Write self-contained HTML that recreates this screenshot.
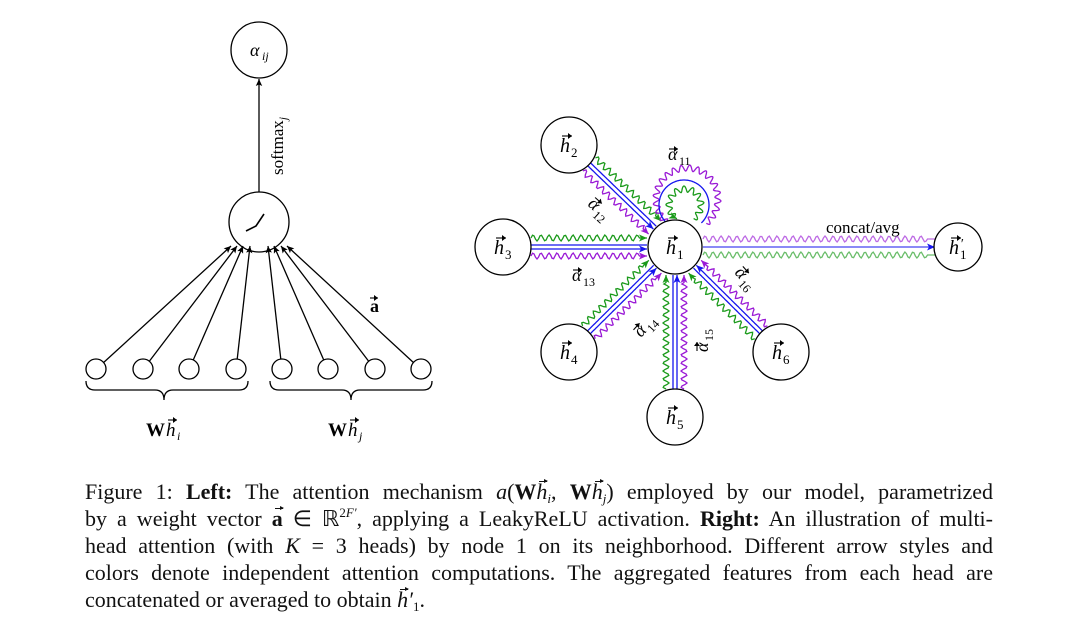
<!DOCTYPE html>
<html><head><meta charset="utf-8"><style>
html,body{margin:0;padding:0;background:#fff;width:1080px;height:634px;overflow:hidden}
svg{position:absolute;left:0;top:0}
.cap{position:absolute;left:85px;width:908px;font-family:"Liberation Serif",serif;font-size:22px;color:#111;text-align:justify;text-align-last:justify;white-space:nowrap;line-height:27px;height:27px}
.cap sub,.cap sup{font-size:13px;line-height:0;position:relative;vertical-align:baseline}
.cap sub{top:4px}.cap sup{top:-9px}
.v{position:relative;display:inline-block;font-style:italic}
.v::before{content:"";position:absolute;left:3px;top:3px;width:8px;border-top:1.1px solid #111}
.v::after{content:"";position:absolute;left:8px;top:1px;border-left:4px solid #111;border-top:2.5px solid transparent;border-bottom:2.5px solid transparent}
</style></head><body>
<svg id="s" width="1080" height="634" viewBox="0 0 1080 634" font-family="Liberation Serif, serif">
<defs>
<marker id="ak" markerWidth="8" markerHeight="8" refX="7" refY="4" orient="auto" markerUnits="userSpaceOnUse"><path d="M0,0.8 L7,4 L0,7.2 L1.5,4 Z" fill="#000"/></marker>
<marker id="ab" markerWidth="9" markerHeight="9" refX="8" refY="4.5" orient="auto" markerUnits="userSpaceOnUse"><path d="M0,1 L8,4.5 L0,8 L2,4.5 Z" fill="#1515ee"/></marker>
<marker id="ag" markerWidth="9" markerHeight="9" refX="8" refY="4.5" orient="auto" markerUnits="userSpaceOnUse"><path d="M0,1 L8,4.5 L0,8 L2,4.5 Z" fill="#1a9a1a"/></marker>
<marker id="ap" markerWidth="9" markerHeight="9" refX="8" refY="4.5" orient="auto" markerUnits="userSpaceOnUse"><path d="M0,1 L8,4.5 L0,8 L2,4.5 Z" fill="#9a1ad6"/></marker>
</defs>
<g stroke="#000" stroke-width="1.3" fill="none">
<circle cx="259" cy="50" r="28"/>
<circle cx="259" cy="222" r="30"/>
<path d="M246,231 L256,226 L264,214" stroke-width="1.6"/>
<line x1="259" y1="192" x2="259" y2="79" marker-end="url(#ak)"/>
<g id="bots"></g>
<path d="M86,381 q0,9 9,9 h60 q9,0 9,10 q0,-10 9,-10 h66 q9,0 9,-9"/>
<path d="M270,381 q0,9 9,9 h63 q9,0 9,10 q0,-10 9,-10 h63 q9,0 9,-9"/>
</g>
<text x="250" y="56" font-size="18" font-style="italic">α</text><text x="262" y="60" font-size="12" font-style="italic">ij</text>
<text transform="translate(283,175) rotate(-90)" font-size="17">softmax<tspan font-style="italic" font-size="12" dy="4">j</tspan></text>
<text x="370" y="312" font-size="18" font-weight="bold">a</text>
<text x="146" y="436" font-size="19" font-weight="bold">W</text><text x="166" y="436" font-size="19" font-style="italic">h</text><text x="177" y="440" font-size="12" font-style="italic">i</text>
<text x="328" y="436" font-size="19" font-weight="bold">W</text><text x="348" y="436" font-size="19" font-style="italic">h</text><text x="359" y="440" font-size="12" font-style="italic">j</text>
<g id="edges" fill="none"></g>
<g stroke="#000" stroke-width="1.3" fill="#fff">
<circle cx="675" cy="247" r="27"/>
<circle cx="569" cy="145" r="28"/>
<circle cx="503" cy="247" r="28"/>
<circle cx="569" cy="352" r="28"/>
<circle cx="675" cy="417" r="28"/>
<circle cx="781" cy="352" r="28"/>
<circle cx="958" cy="247" r="24"/>
</g>
<g id="labs"></g>
<text x="826" y="233" font-size="17">concat/avg</text>
</svg>
<div class="cap" style="top:478px">Figure 1: <b>Left:</b> The attention mechanism <i>a</i>(<b>W</b><span class="v">h</span><sub><i>i</i></sub>, <b>W</b><span class="v">h</span><sub><i>j</i></sub>) employed by our model, parametrized</div>
<div class="cap" style="top:505px">by a weight vector <b class="v" style="font-style:normal">a</b> ∈ ℝ<sup>2<i>F′</i></sup>, applying a LeakyReLU activation. <b>Right:</b> An illustration of multi-</div>
<div class="cap" style="top:532px">head attention (with <i>K</i> = 3 heads) by node 1 on its neighborhood. Different arrow styles and</div>
<div class="cap" style="top:559px">colors denote independent attention computations. The aggregated features from each head are</div>
<div class="cap" style="top:586px;text-align-last:left">concatenated or averaged to obtain <span class="v">h</span><i>′</i><sub>1</sub>.</div>
<script>
var NS="http://www.w3.org/2000/svg";
function el(tag,attrs,parent,txt){var e=document.createElementNS(NS,tag);for(var k in attrs)e.setAttribute(k,attrs[k]);if(txt!=null)e.textContent=txt;parent.appendChild(e);return e;}
var bots=document.getElementById("bots");
var xs=[96,143,189,236,282,328,375,421];
var tx=[231,237,243,250,268,274,281,287];
xs.forEach(function(x,i){
 el("circle",{cx:x,cy:369,r:10},bots);
 var dx=tx[i]-x,dy=244-359,L=Math.hypot(dx,dy);
 el("line",{x1:x+dx/L*10,y1:369+dy/L*10,x2:tx[i],y2:246,"marker-end":"url(#ak)"},bots);
});
var S=document.getElementById("s");
function vecArrow(g,x,y,w){el("path",{d:"M"+x+","+y+" h"+w,stroke:"#000","stroke-width":1.1,fill:"none"},g);el("path",{d:"M"+(x+w-4)+","+(y-3)+" L"+(x+w)+","+y+" L"+(x+w-4)+","+(y+3)+" Z",fill:"#000"},g);}
vecArrow(S,168,420,9);vecArrow(S,350,420,9);vecArrow(S,370,298,8);
var labs=document.getElementById("labs");
function hl(x,y,sub,prime){var g=el("g",{},labs);
 el("text",{x:x-6,y:y+7,"font-size":20,"font-style":"italic"},g,"h");
 vecArrow(g,x-4,y-9,10);
 if(prime)el("text",{x:x+5,y:y+1,"font-size":14,"font-style":"italic"},g,"′");
 el("text",{x:x+5,y:y+12,"font-size":13},g,sub);}
hl(672,247,"1");hl(566,145,"2");hl(500,247,"3");hl(566,352,"4");hl(672,417,"5");hl(778,352,"6");hl(955,247,"1",true);
function al(x,y,rot,sub){var g=el("g",{transform:"translate("+x+","+y+") rotate("+rot+")"},labs);
 el("text",{x:0,y:0,"font-size":18,"font-style":"italic"},g,"α");
 vecArrow(g,1,-11,9);
 el("text",{x:11,y:5,"font-size":12},g,sub);}
al(668,160,0,"11");al(587,205,42,"12");al(572,281,0,"13");al(641,338,-48,"14");al(708,352,-90,"15");al(734,273,48,"16");
var E=document.getElementById("edges");
var C={b:"#1515ee",g:"#1a9a1a",p:"#9a1ad6"};
function seg(p,q,off,wavy,col,mk,op){
 var dx=q[0]-p[0],dy=q[1]-p[1],L=Math.hypot(dx,dy),ux=dx/L,uy=dy/L,nx=uy,ny=-ux;
 var d="";var n=Math.floor(L/1.5);
 for(var k=0;k<=n;k++){var t=k/n*L;var a=wavy&&t<L-8?3*Math.sin(t/8*2*Math.PI):0;
  var x=p[0]+ux*t+nx*(off+a),y=p[1]+uy*t+ny*(off+a);d+=(k?"L":"M")+x.toFixed(1)+","+y.toFixed(1);}
 var at={d:d,stroke:col,"stroke-width":1.3};if(mk)at["marker-end"]="url(#"+mk+")";if(op)at["stroke-opacity"]=op;el("path",at,E);
}
var h1=[675,247];
var nb=[[569,145,28],[503,247,28],[569,352,28],[675,417,28],[781,352,28]];
nb.forEach(function(n){
 var dx=h1[0]-n[0],dy=h1[1]-n[1],L=Math.hypot(dx,dy),ux=dx/L,uy=dy/L;
 var p=[n[0]+ux*n[2],n[1]+uy*n[2]],q=[h1[0]-ux*28,h1[1]-uy*28];
 var nx=uy,ny=-ux;
 seg([p[0]+nx*2,p[1]+ny*2],[q[0]+nx*2,q[1]+ny*2],0,false,C.b,null);
 seg([p[0]-nx*2,p[1]-ny*2],[q[0]-nx*2,q[1]-ny*2],0,false,C.b,"ab");
 seg(p,q,9,true,C.g,"ag");
 seg(p,q,-9,true,C.p,"ap");
});
seg([703,247],[935,247],0,false,C.b,"ab",0.8);
seg([703,247],[935,247],8,true,C.p,null,0.65);
seg([703,247],[935,247],-8,true,C.g,null,0.65);
function loop(cx,cy,r,wavy,col,mk,a0,a1){
 var d="",n=300;for(var k=0;k<=n;k++){var a=a0+(a1-a0)*k/n;var s=Math.abs(a-a0)*r;var rr=r+(wavy&&k<n-10?3*Math.sin(s/8*2*Math.PI):0);
 d+=(k?"L":"M")+(cx+rr*Math.cos(a)).toFixed(1)+","+(cy+rr*Math.sin(a)).toFixed(1);}
 el("path",{d:d,stroke:col,"stroke-width":1.3,"marker-end":"url(#"+mk+")"},E);
}
loop(687,199,31,true,C.p,"ap",0.9,2.0-2*Math.PI);
loop(684,205,25,false,C.b,"ab",0.8,2.0-2*Math.PI);
loop(685,205,16,true,C.g,"ag",1.0,2.1-2*Math.PI);
</script>
</body></html>
